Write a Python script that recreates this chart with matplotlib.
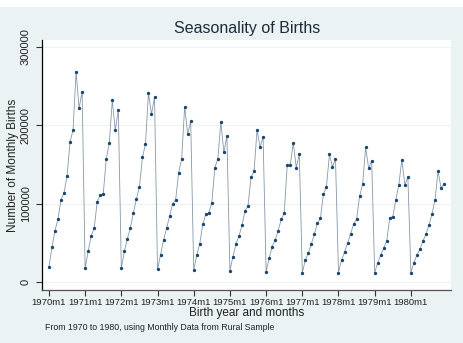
import matplotlib.pyplot as plt

plt.rcParams['font.family'] = ['Liberation Sans', 'DejaVu Sans']

years = list(range(1970, 1981))

births_1970 = [19100, 44300, 65500, 80400, 105000, 114000, 135000, 179000, 194000, 268000, 222000, 243000]
births_1971 = [17500, 39000, 59000, 68500, 102500, 111000, 112000, 157000, 177000, 232000, 194000, 220000]
births_1972 = [17500, 39000, 55000, 69000, 88500, 106000, 121000, 159000, 176000, 241000, 214000, 236500]
births_1973 = [16000, 34500, 53600, 68500, 84000, 99600, 104700, 139600, 157000, 224000, 188500, 205500]
births_1974 = [15300, 34000, 49000, 73600, 86400, 88500, 101000, 146000, 157000, 204600, 165500, 187000]
births_1975 = [14500, 32300, 48500, 58700, 72300, 90200, 97400, 133600, 141700, 194000, 172000, 185500]
births_1976 = [13200, 30200, 45000, 53600, 65500, 80000, 87700, 149400, 149400, 178000, 146000, 163000]
births_1977 = [11900, 28000, 37400, 48500, 61300, 75000, 81300, 112000, 121700, 163000, 147000, 157000]
births_1978 = [11900, 28000, 38300, 49400, 61300, 73600, 80400, 109700, 125000, 172000, 145000, 155000]
births_1979 = [11900, 24700, 34500, 43000, 52800, 82200, 83400, 104700, 124300, 156000, 124000, 134000]
births_1980 = [11900, 24700, 34500, 41700, 52300, 60900, 72800, 86800, 104700, 141700, 120400, 125000]

births = (births_1970 + births_1971 + births_1972 + births_1973 + births_1974 + births_1975
          + births_1976 + births_1977 + births_1978 + births_1979 + births_1980)
months = list(range(len(births)))

tick_pos = [12 * i for i in range(len(years))]
tick_labels = [f"{y}m1" for y in years]

bg = '#eaf2f3'
fig = plt.figure(figsize=(4.64, 3.43), dpi=100, facecolor=bg)
# white strip at the very top of the screenshot
fig.patches.append(plt.Rectangle((0, 1 - 7 / 343), 1, 7 / 343, transform=fig.transFigure,
                                 facecolor='white', edgecolor='none'))
ax = fig.add_axes([42 / 464, 1 - 290 / 343, (451 - 42) / 464, 250 / 343])
ax.set_facecolor('white')

ax.plot(months, births, color='#8797a8', lw=0.6, zorder=2)
ax.plot(months, births, ls='none', marker='o', ms=1.4, color='#1a476f', zorder=3)

ax.set_xlim(-2.3, 133.3)
ax.set_ylim(-10200, 309000)
ax.set_yticks([0, 100000, 200000, 300000])
ax.set_yticklabels(['0', '100000', '200000', '300000'], rotation=90, va='center', fontsize=8, color='#222')
ax.set_xticks(tick_pos)
ax.set_xticklabels(tick_labels, fontsize=6.8, color='#222')
ax.grid(axis='y', color='#eaf2f3', lw=0.8, zorder=0)
ax.tick_params(axis='both', length=4, width=0.8, colors='#333')
ax.tick_params(axis='x', pad=2)
ax.tick_params(axis='y', pad=4)
ax.tick_params(axis='both', labelcolor='#222')

for s in ['top', 'right']:
    ax.spines[s].set_visible(False)
ax.spines['left'].set_color('black')
ax.spines['left'].set_linewidth(0.9)
ax.spines['bottom'].set_color('#555')
ax.spines['bottom'].set_linewidth(0.9)

ax.set_xlabel('Birth year and months', fontsize=8.5, color='#222', labelpad=0)
ax.set_ylabel('Number of Monthly Births', fontsize=8.5, color='#222', labelpad=1)
fig.text(247 / 464, 1 - 29 / 343, 'Seasonality of Births', ha='center', va='center',
         fontsize=11.5, color='#1e2b3a')
fig.text(45 / 464, 1 - 327 / 343, 'From 1970 to 1980, using Monthly Data from Rural Sample',
         ha='left', va='center', fontsize=6.3, color='#222')

fig.savefig('out.png', dpi=100, facecolor=bg)
